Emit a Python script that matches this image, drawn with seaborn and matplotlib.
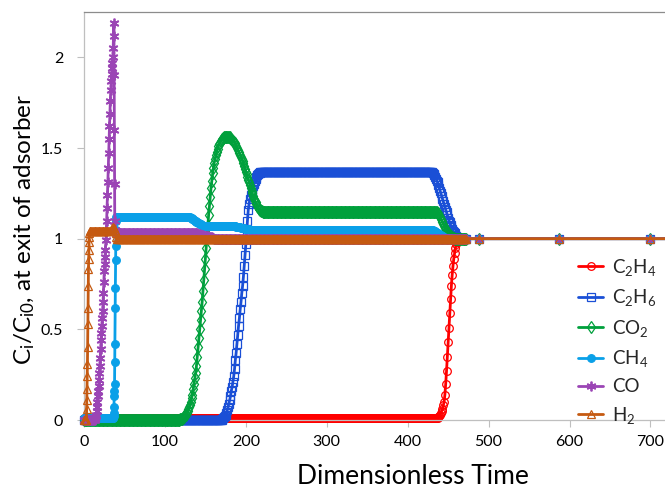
import numpy as np
import matplotlib
matplotlib.use("Agg")
import matplotlib.pyplot as plt
import seaborn as sns
from matplotlib.lines import Line2D


def flat(t0, t1, v):
    """Constant run sampled every time unit from t0 to t1 (inclusive)."""
    t = np.arange(t0, t1 + 0.5, 1.0)
    return t, np.full(t.size, float(v))


def steps(t0, dt, vals):
    """Consecutive samples starting at t0 with spacing dt."""
    t = t0 + dt * np.arange(len(vals))
    return t, np.asarray(vals, dtype=float)


# ---------------------------------------------------------------- data
# Late, coarse output times (all species back at the feed concentration)
TAIL_T = [488.0, 587.0, 699.0, 730.0]
TAIL_V = [1.0, 1.0, 1.0, 1.0]

# C2H4 – strongest adsorbing species, breaks through last
C2H4_BASE = 0.012
C2H4_RISE = [0.015, 0.02, 0.03, 0.04, 0.05, 0.06, 0.08, 0.10, 0.14, 0.20,
             0.27, 0.35, 0.43, 0.51, 0.59, 0.67, 0.74, 0.80, 0.85, 0.89,
             0.92, 0.95, 0.97, 0.98, 0.99, 0.995]

# C2H6 – roll-up plateau displaced by C2H4
C2H6_RISE = [0.0, 0.005, 0.01, 0.015, 0.02, 0.03, 0.04, 0.055, 0.07, 0.09,
             0.11, 0.13, 0.16, 0.18, 0.21, 0.24, 0.28, 0.33, 0.37, 0.42,
             0.47, 0.52, 0.56, 0.61, 0.65, 0.70, 0.74, 0.79, 0.85, 0.91,
             0.97, 1.03, 1.10, 1.16, 1.19, 1.22, 1.24, 1.26, 1.27, 1.29,
             1.30, 1.32, 1.33, 1.34, 1.35, 1.355, 1.36, 1.36, 1.365, 1.365]
C2H6_PLATEAU = 1.37
C2H6_FALL = [1.368, 1.365, 1.36, 1.355, 1.35, 1.34, 1.33, 1.32, 1.31, 1.295,
             1.28, 1.265, 1.25, 1.235, 1.22, 1.205, 1.19, 1.175, 1.16, 1.145,
             1.13, 1.115, 1.10, 1.09, 1.075, 1.065, 1.055, 1.045, 1.035, 1.03,
             1.02, 1.015, 1.01, 1.005]

# CO2 – overshoot peak then intermediate plateau
CO2_RISE = [0.0, 0.003, 0.005, 0.008, 0.01, 0.015, 0.02, 0.025, 0.03, 0.04,
            0.05, 0.06, 0.07, 0.08, 0.10, 0.12, 0.14, 0.17, 0.20, 0.23,
            0.26, 0.30, 0.35, 0.40, 0.45, 0.50, 0.55, 0.60, 0.65, 0.71,
            0.77, 0.83, 0.89, 0.95, 1.01, 1.07, 1.13, 1.18, 1.23, 1.28,
            1.32, 1.36, 1.39, 1.42, 1.44, 1.46, 1.48, 1.495, 1.51, 1.52,
            1.53, 1.54, 1.545, 1.55, 1.555, 1.558, 1.56, 1.56, 1.562, 1.562]
CO2_PEAK_FALL = [1.56, 1.56, 1.558, 1.555, 1.55, 1.545, 1.54, 1.535, 1.53, 1.52,
                 1.51, 1.50, 1.49, 1.48, 1.47, 1.46, 1.45, 1.44, 1.43, 1.415,
                 1.40, 1.385, 1.37, 1.355, 1.34, 1.325, 1.31, 1.295, 1.28, 1.265,
                 1.25, 1.235, 1.22, 1.21, 1.20, 1.19, 1.18, 1.172, 1.165, 1.16,
                 1.156, 1.153, 1.15, 1.148, 1.147, 1.146]
CO2_PLATEAU = 1.145
CO2_FALL = [1.14, 1.135, 1.13, 1.12, 1.11, 1.10, 1.09, 1.08, 1.07, 1.06,
            1.05, 1.04, 1.035, 1.03, 1.025, 1.02, 1.015, 1.01, 1.007, 1.005,
            1.003]

# CH4 – sharp front, slowly relaxing plateau
CH4_BASE = 0.01
CH4_JUMP = [0.01, 0.02, 0.04, 0.07, 0.13, 0.16, 0.20, 0.32, 0.42, 0.62,
            0.73, 0.88, 0.96, 1.05, 1.10]
CH4_PLATEAU = 1.12
CH4_DECLINE_1 = [1.118, 1.115, 1.112, 1.11, 1.107, 1.104, 1.10, 1.097, 1.094, 1.091,
                 1.088, 1.085, 1.082, 1.079, 1.076, 1.074, 1.072, 1.071, 1.07, 1.07]
CH4_MID = 1.07
CH4_DECLINE_2 = [1.069, 1.068, 1.067, 1.066, 1.065, 1.064, 1.063, 1.062, 1.061, 1.06,
                 1.059, 1.058, 1.057, 1.056, 1.055, 1.054, 1.053, 1.052, 1.051, 1.05]
CH4_LATE = 1.048
CH4_FALL = [1.047, 1.045, 1.043, 1.04, 1.037, 1.034, 1.031, 1.028, 1.025, 1.022,
            1.019, 1.016, 1.013, 1.01, 1.008, 1.006, 1.004, 1.003, 1.002, 1.001]

# CO – large early roll-up
CO_RISE = [0.0, 0.005, 0.01, 0.02, 0.03, 0.05, 0.07, 0.10, 0.13, 0.16,
           0.19, 0.22, 0.26, 0.30, 0.34, 0.39, 0.44, 0.48, 0.52, 0.56,
           0.60, 0.65, 0.70, 0.76, 0.82, 0.86, 0.90, 0.94, 0.99, 1.04,
           1.10, 1.17, 1.24, 1.31, 1.39, 1.47, 1.55, 1.62, 1.69, 1.76,
           1.82, 1.87, 1.91, 1.94, 1.97, 2.00, 2.05, 2.12, 2.19]
CO_DROP = [1.90, 1.60, 1.30, 1.10, 1.05, 1.04]
CO_PLATEAU = 1.03
CO_DECLINE = [1.028, 1.026, 1.024, 1.022, 1.02, 1.019, 1.018, 1.017, 1.016, 1.015,
              1.014, 1.013, 1.012, 1.011, 1.01, 1.009, 1.008, 1.007, 1.006, 1.005]

# H2 – weakest adsorbing species, breaks through immediately
H2_RISE = [0.06, 0.11, 0.17, 0.24, 0.31, 0.40, 0.53, 0.62, 0.74, 0.83,
           0.89, 0.94, 0.98, 1.01, 1.03]
H2_PLATEAU = 1.04
H2_BUMP = [1.045, 1.05, 1.055, 1.06, 1.062, 1.06, 1.05, 1.03, 1.01, 1.0]

TAIL = (np.array(TAIL_T), np.array(TAIL_V))

SERIES = {
    "C2H4": [flat(0, 437, C2H4_BASE), steps(438, 1, C2H4_RISE),
             flat(464, 472, 1.0), TAIL],
    "C2H6": [flat(0, 169, 0.0), steps(170, 1, C2H6_RISE),
             flat(220, 428, C2H6_PLATEAU), steps(429, 1, C2H6_FALL),
             flat(463, 472, 1.0), TAIL],
    "CO2": [flat(0, 117, 0.0), steps(118, 1, CO2_RISE),
            steps(178, 1, CO2_PEAK_FALL), flat(224, 436, CO2_PLATEAU),
            steps(437, 1, CO2_FALL), flat(458, 472, 1.0), TAIL],
    "CH4": [flat(0, 36, CH4_BASE), steps(36.25, 0.25, CH4_JUMP),
            flat(40, 130, CH4_PLATEAU), steps(131, 1, CH4_DECLINE_1),
            flat(151, 185, CH4_MID), steps(186, 1, CH4_DECLINE_2),
            flat(206, 430, CH4_LATE), steps(431, 1, CH4_FALL),
            flat(451, 472, 1.0), TAIL],
    "CO": [flat(0, 12, 0.0), steps(13, 0.5, CO_RISE),
           steps(37.25, 0.25, CO_DROP), flat(39, 140, CO_PLATEAU),
           steps(141, 1, CO_DECLINE), flat(161, 472, 1.0), TAIL],
    "H2": [flat(0, 3, 0.0), steps(3.25, 0.25, H2_RISE),
           flat(7, 31, H2_PLATEAU), steps(32, 1, H2_BUMP),
           flat(42, 472, 1.0), TAIL],
}

LABELS = {
    "C2H4": r"$\mathregular{C_2H_4}$",
    "C2H6": r"$\mathregular{C_2H_6}$",
    "CO2": r"$\mathregular{CO_2}$",
    "CH4": r"$\mathregular{CH_4}$",
    "CO": "CO",
    "H2": r"$\mathregular{H_2}$",
}

STYLES = {
    "C2H4": dict(color="#FF0000", marker="o", ms=5.5, mew=0.9, fill=False),
    "C2H6": dict(color="#1A4FD6", marker="s", ms=5.5, mew=0.9, fill=False),
    "CO2": dict(color="#00A03C", marker="d", ms=6.5, mew=0.9, fill=False),
    "CH4": dict(color="#0AA0E8", marker="o", ms=5.5, mew=0.9, fill=True),
    "CO": dict(color="#9B45B5", marker=(6, 2, 0), ms=7.0, mew=1.3, fill=True),
    "H2": dict(color="#C55A11", marker="^", ms=6.0, mew=0.9, fill=False),
}

XTICKS = [0, 100, 200, 300, 400, 500, 600, 700]
YTICKS = [0, 0.5, 1, 1.5, 2]
YTICK_LABELS = ["0", "0.5", "1", "1.5", "2"]

# ---------------------------------------------------------------- figure
sns.set_theme(style="white")
plt.rcParams["font.family"] = ["Lato", "DejaVu Sans"]

W, H = 665, 492
fig = plt.figure(figsize=(W / 100, H / 100), dpi=100)
ax = fig.add_axes([84 / W, 72 / H, 581 / W, 408 / H])

handles = []
for z, (name, segs) in enumerate(SERIES.items()):
    t = np.concatenate([s[0] for s in segs])
    v = np.concatenate([s[1] for s in segs])
    st = STYLES[name]
    kw = dict(color=st["color"], marker=st["marker"], markersize=st["ms"],
              markeredgecolor=st["color"],
              markerfacecolor=st["color"] if st["fill"] else "none",
              markeredgewidth=st["mew"], linewidth=2.0)
    sns.lineplot(x=t, y=v, ax=ax, estimator=None, sort=False, legend=False,
                 clip_on=False, zorder=2 + z, **kw)
    handles.append(Line2D([], [], **kw))

ax.set_xlim(0, 718)
ax.set_ylim(0, 2.25)
ax.set_xticks(XTICKS)
ax.set_xticklabels([str(x) for x in XTICKS])
ax.set_yticks(YTICKS)
ax.set_yticklabels(YTICK_LABELS)
ax.tick_params(axis="both", which="both", direction="out", length=5,
               width=0.8, color="#BFBFBF", labelsize=11.5,
               labelcolor="#000000", pad=6)
ax.tick_params(axis="x", bottom=True)
ax.tick_params(axis="y", left=True, pad=10)

for side in ("left", "bottom"):
    ax.spines[side].set_color("#BFBFBF")
    ax.spines[side].set_linewidth(0.9)
ax.spines["top"].set_color("#8C8C8C")
ax.spines["top"].set_linewidth(0.9)
ax.spines["right"].set_visible(False)
ax.set_xlabel("")
ax.set_ylabel("")

fig.text(413 / W, 1 - 476 / H, "Dimensionless Time", ha="center",
         va="center", fontsize=19, color="#000000")
fig.text(25 / W, 1 - 229 / H,
         r"$\mathregular{C_i/C_{i0}}$, at exit of adsorber",
         rotation=90, ha="center", va="center", fontsize=17.5, color="#000000")

ax.legend(handles, [LABELS[k] for k in SERIES], loc="upper left",
          bbox_to_anchor=(578 / W, 1 - 257 / H),
          bbox_transform=fig.transFigure, frameon=False, fontsize=13.5,
          handlelength=1.35, handletextpad=0.45, labelspacing=0.5,
          borderpad=0, borderaxespad=0)

fig.savefig("out.png", dpi=100)
